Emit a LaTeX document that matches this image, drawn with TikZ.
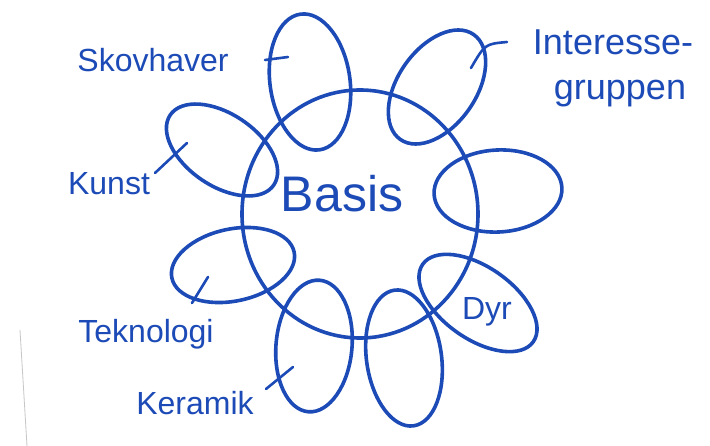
\documentclass[tikz,border=0pt]{standalone}
\usepackage{fontspec}
\setmainfont{Liberation Sans}
\usetikzlibrary{shapes.geometric}
\definecolor{ink}{RGB}{28,74,182}
\begin{document}
\begin{tikzpicture}[x=1pt,y=-1pt,
  inkline/.style={draw=ink, line width=3.6pt, line cap=round, line join=round},
  petal/.style={ellipse, inkline, inner sep=0pt},
  tick/.style={inkline, line width=2.6pt},
  lbl/.style={text=ink, anchor=base, inner sep=0pt, font=\fontsize{32}{36}\selectfont},
]
\useasboundingbox (0,0) rectangle (710,446);
\fill[white] (0,0) rectangle (710,446);
\draw[gray!45, line width=0.8pt] (20,330) -- (27,446);
% centre
\node[petal, minimum width=236pt, minimum height=248pt] (core) at (360,214) {};
\node[text=ink, anchor=base, inner sep=0pt, font=\fontsize{50}{58}\selectfont] (basis) at (342,212) {Basis};
% petals
\node[petal, minimum width=80pt,  minimum height=137pt, rotate=8]   (p1) at (310,82)  {};
\node[petal, minimum width=128pt, minimum height=78pt,  rotate=55]  (p2) at (437,87)  {};
\node[petal, minimum width=128pt, minimum height=82pt,  rotate=3]   (p3) at (498,191) {};
\node[petal, minimum width=135pt, minimum height=72pt,  rotate=-35] (p4) at (478,303) {};
\node[petal, minimum width=75pt,  minimum height=137pt, rotate=8]   (p5) at (404,358) {};
\node[petal, minimum width=76pt,  minimum height=132pt, rotate=-5]  (p6) at (314,346) {};
\node[petal, minimum width=125pt, minimum height=72pt,  rotate=12]  (p7) at (233,265) {};
\node[petal, minimum width=125pt, minimum height=72pt,  rotate=-34] (p8) at (222,150) {};
% labels
\node[lbl] (skov) at (153,72) {Skovhaver};
\node[lbl, font=\fontsize{36}{40}\selectfont] (igA) at (613,55) {Interesse-};
\node[lbl, font=\fontsize{36}{40}\selectfont] (igB) at (620,100) {gruppen};
\node[lbl] (kunst) at (109,195) {Kunst};
\node[lbl] (tekno) at (146,343) {Teknologi};
\node[lbl] (keram) at (195,414) {Keramik};
\node[lbl] (dyr) at (487,320) {Dyr};
% connector ends
\coordinate (sA) at (265,60);  \coordinate (sB) at (288,57);
\coordinate (iA) at (507,42);  \coordinate (iB) at (471,68);
\coordinate (kA) at (155,173); \coordinate (kB) at (187,143);
\coordinate (tA) at (192,303); \coordinate (tB) at (208,277);
\coordinate (rA) at (266,389); \coordinate (rB) at (293,367);
\draw[tick] (sA) -- (sB);
\draw[tick] (iA) .. controls (485,44) .. (iB);
\draw[tick] (kA) -- (kB);
\draw[tick] (tA) -- (tB);
\draw[tick] (rA) -- (rB);
\end{tikzpicture}
\end{document}
